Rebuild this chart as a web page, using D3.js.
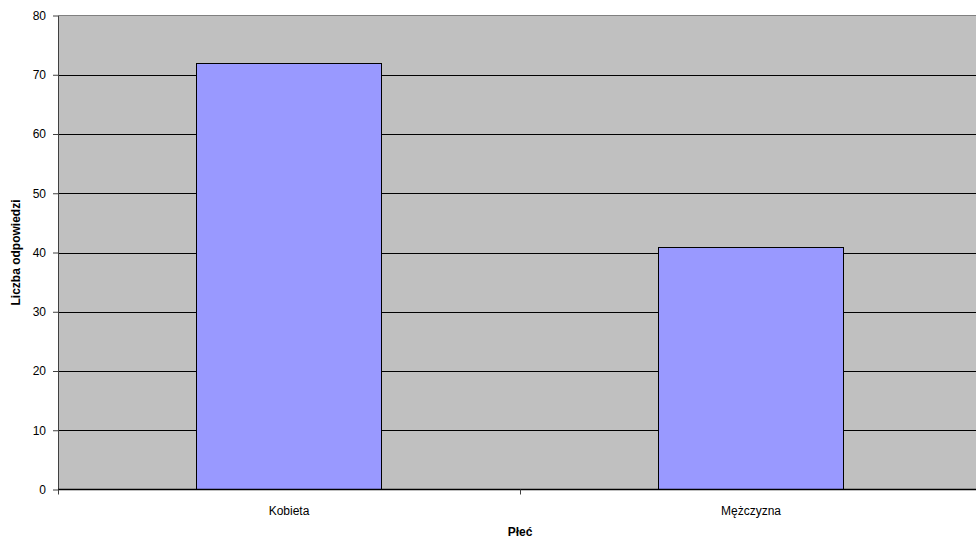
<!DOCTYPE html>
<html><head><meta charset="utf-8">
<script src="https://cdn.jsdelivr.net/npm/d3@7"></script>
<style>body{margin:0;background:#fff}svg{display:block;font-family:"Liberation Sans",Arial,sans-serif}</style>
</head><body>
<svg id="c" width="976" height="541"></svg>
<script>
const categories = ["Kobieta", "Mężczyzna"];
const values = [72, 41];
const yTicks = [0, 10, 20, 30, 40, 50, 60, 70, 80];
const yTitle = "Liczba odpowiedzi";
const xTitle = "Płeć";

const svg = d3.select("#c");
const L = 58, T = 15.5, B = 489.5, R = 58 + 924;
const x = d3.scaleBand().domain(categories).range([L, R]).paddingInner(0.6).paddingOuter(0.3);
const xs = d3.scaleBand().domain(categories).range([L, R]);
const y = d3.scaleLinear().domain([0, 80]).range([B, T]);

svg.append("rect").attr("x", L).attr("y", T).attr("width", R - L).attr("height", B - T).attr("fill", "#C0C0C0");
svg.append("line").attr("x1", L).attr("x2", R).attr("y1", T).attr("y2", T).attr("stroke", "#808080").attr("stroke-width", 1);

svg.append("g").selectAll("line").data(yTicks.filter(d => d > 0 && d < 80)).join("line")
  .attr("x1", L).attr("x2", R).attr("y1", d => Math.round(y(d)) + 0.5).attr("y2", d => Math.round(y(d)) + 0.5)
  .attr("stroke", "#000").attr("stroke-width", 1);

svg.append("g").selectAll("rect").data(categories).join("rect")
  .attr("x", d => Math.floor(x(d)) + 0.5).attr("y", (d, i) => Math.round(y(values[i])) + 0.5)
  .attr("width", Math.round(x.bandwidth())).attr("height", (d, i) => B - Math.round(y(values[i])) - 0.5)
  .attr("fill", "#9999FF").attr("stroke", "#000").attr("stroke-width", 1);

// y axis
const yAxis = d3.axisLeft(y).tickValues(yTicks).tickSize(5).tickPadding(7).tickSizeOuter(0);
const gy = svg.append("g").attr("transform", `translate(${L},0)`).call(yAxis);
gy.select(".domain").attr("stroke", "#404040");
gy.selectAll(".tick line").attr("stroke", "#404040");
gy.selectAll("text").attr("font-size", 12).attr("fill", "#000");

// x axis
const gx = svg.append("g").attr("transform", `translate(0,${B})`);
gx.append("line").attr("x1", L).attr("x2", R).attr("y1", 0).attr("y2", 0).attr("stroke", "#000").attr("stroke-width", 1.5);
gx.selectAll(".sep").data([categories[1]]).join("line").attr("class", "sep")
  .attr("x1", d => xs(d) + 0.5).attr("x2", d => xs(d) + 0.5).attr("y1", 0).attr("y2", 5).attr("stroke", "#404040");
gx.append("line").attr("x1", L + 0.5).attr("x2", L + 0.5).attr("y1", 0).attr("y2", 5).attr("stroke", "#404040");
gx.selectAll("text").data(categories).join("text")
  .attr("x", d => x(d) + x.bandwidth() / 2).attr("y", 25).attr("text-anchor", "middle")
  .attr("font-size", 12).text(d => d);

svg.append("text").attr("x", xs(categories[1])).attr("y", 536).attr("text-anchor", "middle")
  .attr("font-size", 12).attr("font-weight", "bold").text(xTitle);
svg.append("text").attr("transform", `translate(20,${(T + B) / 2}) rotate(-90)`).attr("text-anchor", "middle")
  .attr("font-size", 12).attr("font-weight", "bold").text(yTitle);
</script>
</body></html>
